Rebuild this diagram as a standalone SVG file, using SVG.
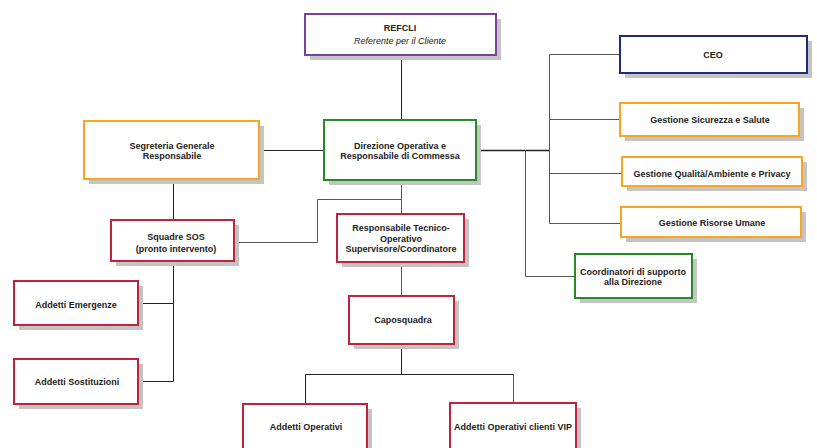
<svg xmlns="http://www.w3.org/2000/svg" width="817" height="448" viewBox="0 0 817 448">
<style>
.sh{fill:#c4c4c4}
.bx{fill:#fff;stroke-width:2}
.p{stroke:#7b3fa0}.o{stroke:#f9a51e}.g{stroke:#258a28}.n{stroke:#1f2a80}.r{stroke:#c0233c}
text{font-family:"Liberation Sans",Arial,sans-serif;font-size:9px;font-weight:bold;fill:#222;text-anchor:middle}
.it{font-weight:normal;font-style:italic}
.c line,.c polyline{stroke:#222;stroke-width:1;fill:none}
.c .gr{stroke:#555}
</style>
<g class="c" id="connectors">
<line x1="401.5" y1="55" x2="401.5" y2="120"/>
<line x1="259" y1="150.5" x2="324" y2="150.5"/>
<line x1="476" y1="150.5" x2="549" y2="150.5" style="stroke-width:1.3"/>
<polyline class="gr" points="620,54.5 549.5,54.5 549.5,223.5 621,223.5"/>
<line class="gr" x1="549" y1="119.5" x2="620" y2="119.5"/>
<line class="gr" x1="549" y1="173.5" x2="622" y2="173.5"/>
<polyline class="gr" points="525.5,150 525.5,276.5 575,276.5"/>
<line x1="173.5" y1="179" x2="173.5" y2="220"/>
<polyline class="gr" points="234,242.5 317.5,242.5 317.5,199.5 401.5,199.5"/>
<line class="gr" x1="401.5" y1="180" x2="401.5" y2="214"/>
<line class="gr" x1="401.5" y1="262" x2="401.5" y2="296"/>
<polyline points="173.5,261 173.5,381.5 138,381.5"/>
<line x1="138" y1="303.5" x2="173.5" y2="303.5"/>
<line x1="401.5" y1="344" x2="401.5" y2="374"/>
<polyline points="305.5,404 305.5,374.5 513.5,374.5"/>
<line class="gr" x1="513.5" y1="374.5" x2="513.5" y2="403"/>
</g>
<g id="refcli"><rect class="sh" x="310" y="19" width="191" height="41"/><rect class="bx p" x="305" y="14" width="191" height="41"/><text x="400" y="31">REFCLI</text><text class="it" x="400" y="44">Referente per il Cliente</text></g>
<g id="segreteria"><rect class="sh" x="89" y="126" width="175" height="58"/><rect class="bx o" x="84" y="121" width="175" height="58"/><text x="172" y="149">Segreteria  Generale</text><text x="172" y="159">Responsabile</text></g>
<g id="direzione"><rect class="sh" x="329" y="125" width="152" height="60"/><rect class="bx g" x="324" y="120" width="152" height="60"/><text x="400" y="149">Direzione Operativa e</text><text x="400" y="159">Responsabile di Commessa</text></g>
<g id="ceo"><rect class="sh" x="625" y="41" width="187" height="37"/><rect class="bx n" x="620" y="36" width="187" height="37"/><text x="713" y="58">CEO</text></g>
<g id="sicurezza"><rect class="sh" x="625" y="108" width="179" height="33"/><rect class="bx o" x="620" y="103" width="179" height="33"/><text x="710" y="123">Gestione Sicurezza e Salute</text></g>
<g id="qualita"><rect class="sh" x="627" y="162" width="180" height="29"/><rect class="bx o" x="622" y="157" width="180" height="29"/><text x="712" y="177">Gestione Qualità/Ambiente e Privacy</text></g>
<g id="risorse"><rect class="sh" x="626" y="212" width="180" height="30"/><rect class="bx o" x="621" y="207" width="180" height="30"/><text x="712" y="226">Gestione Risorse  Umane</text></g>
<g id="coordinatori"><rect class="sh" x="580" y="259" width="117" height="44"/><rect class="bx g" x="575" y="254" width="117" height="44"/><text x="633" y="275">Coordinatori di supporto</text><text x="633" y="285">alla Direzione</text></g>
<g id="squadre"><rect class="sh" x="116" y="225" width="123" height="41"/><rect class="bx r" x="111" y="220" width="123" height="41"/><text x="176" y="240">Squadre SOS</text><text x="176" y="252">(pronto intervento)</text></g>
<g id="responsabile"><rect class="sh" x="342" y="219" width="127" height="48"/><rect class="bx r" x="337" y="214" width="127" height="48"/><text x="401" y="231">Responsabile Tecnico-</text><text x="401" y="242">Operativo</text><text x="401" y="252">Supervisore/Coordinatore</text></g>
<g id="emergenze"><rect class="sh" x="19" y="286" width="124" height="44"/><rect class="bx r" x="14" y="281" width="124" height="44"/><text x="76" y="308">Addetti Emergenze</text></g>
<g id="sostituzioni"><rect class="sh" x="19" y="364" width="124" height="45"/><rect class="bx r" x="14" y="359" width="124" height="45"/><text x="77" y="385">Addetti Sostituzioni</text></g>
<g id="caposquadra"><rect class="sh" x="354" y="301" width="105" height="48"/><rect class="bx r" x="349" y="296" width="105" height="48"/><text x="403" y="323">Caposquadra</text></g>
<g id="operativi"><rect class="sh" x="248" y="409" width="124" height="50"/><rect class="bx r" x="243" y="404" width="124" height="50"/><text x="306" y="430">Addetti Operativi</text></g>
<g id="vip"><rect class="sh" x="455" y="408" width="126" height="50"/><rect class="bx r" x="450" y="403" width="126" height="50"/><text x="513" y="430">Addetti Operativi clienti VIP</text></g>
</svg>
